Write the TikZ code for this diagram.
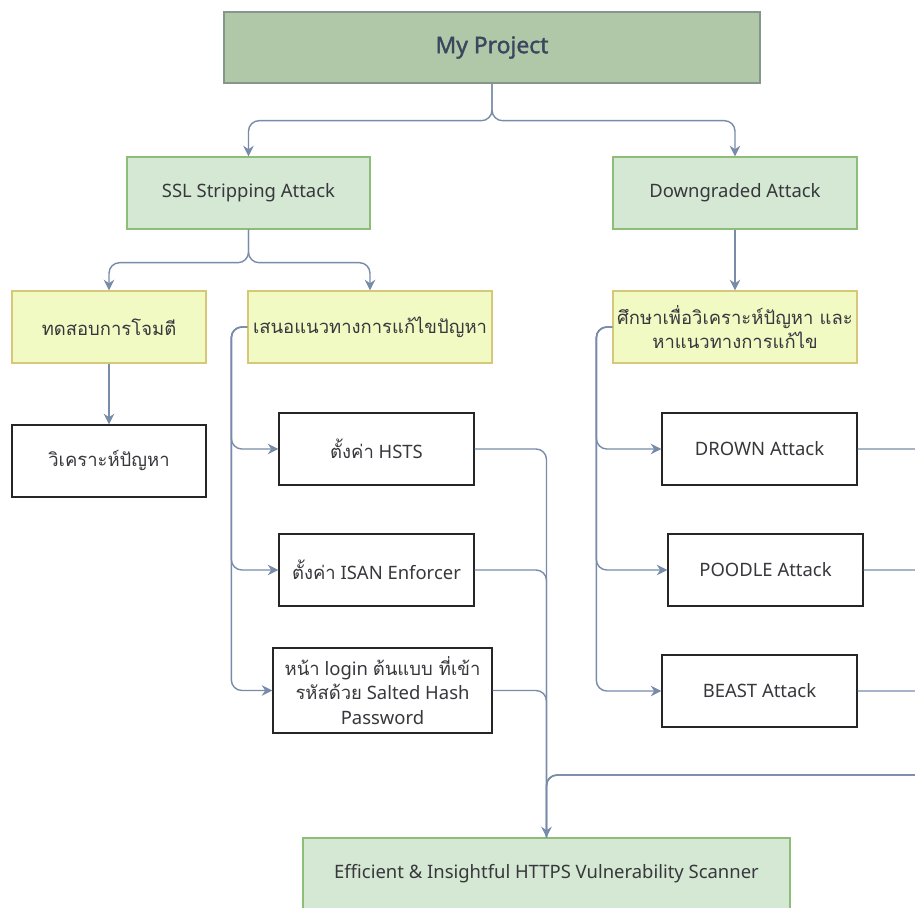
\documentclass[tikz,border=0pt]{standalone}
\usepackage{fontspec}
\setmainfont{Noto Sans}
\newfontfamily\headfont[FakeBold=1.6]{Noto Sans}
\newfontfamily\thaifont[Script=Thai]{Loma}
\usetikzlibrary{arrows.meta}
\tikzset{>={Stealth[length=6pt,width=6pt]}}
\definecolor{topgreen}{RGB}{176,200,168}
\definecolor{topline}{RGB}{135,150,140}
\definecolor{lightgreen}{RGB}{213,232,212}
\definecolor{greenline}{RGB}{140,190,120}
\definecolor{lightyellow}{RGB}{242,250,196}
\definecolor{yellowline}{RGB}{214,200,120}
\definecolor{linkgray}{RGB}{120,140,170}
\definecolor{textgray}{RGB}{55,55,60}
\definecolor{headtext}{RGB}{60,70,95}
\tikzset{
  box/.style={draw=black!85, line width=0.8pt, text=textgray, align=center,
    font=\fontsize{10.5}{14}\selectfont, inner sep=2pt, minimum height=1.44cm},
  thai/.style={font=\fontsize{10.5}{13.5}\selectfont\thaifont},
  topbox/.style={box, fill=topgreen, draw=topline, text=headtext,
    font=\fontsize{13}{16}\selectfont\headfont},
  greenbox/.style={box, fill=lightgreen, draw=greenline},
  yellowbox/.style={box, fill=lightyellow, draw=yellowline},
  link/.style={draw=linkgray, line width=0.8pt, rounded corners=6pt, ->},
  merge/.style={link, -},
}

\begin{document}
\begin{tikzpicture}[x=0.02cm,y=-0.02cm]
  \useasboundingbox (0,0) rectangle (915,908);
  \fill[white] (0,0) rectangle (915,908);
  \clip (0,0) rectangle (915,908);

  % top levels
  \node[topbox, minimum width=10.72cm, minimum height=1.42cm] (proj) at (492,47.5) {My Project};
  \node[greenbox, minimum width=4.86cm] (ssl) at (248.5,193) {SSL Stripping Attack};
  \node[greenbox, minimum width=4.88cm] (down) at (735,193) {Downgraded Attack};
  \node[yellowbox, thai, minimum width=3.88cm] (test) at (109,327) {ทดสอบการโจมตี};
  \node[yellowbox, thai, minimum width=4.88cm] (prop) at (370,327) {เสนอแนวทางการแก้ไขปัญหา};
  \node[yellowbox, thai, minimum width=4.88cm] (study) at (735,327) {ศึกษาเพื่อวิเคราะห์ปัญหา และ\\หาแนวทางการแก้ไข};

  % leaves
  \node[box, thai, minimum width=3.88cm] (anal) at (109,461) {วิเคราะห์ปัญหา};
  \node[box, minimum width=3.9cm] (hsts) at (376.5,449) {{\thaifont ตั้งค่า} HSTS};
  \node[box, minimum width=3.9cm] (isan) at (376.5,570) {{\thaifont ตั้งค่า} ISAN Enforcer};
  \node[box, minimum width=4.38cm, minimum height=1.7cm] (login) at (382.5,690.5)
    {{\thaifont หน้า} login {\thaifont ต้นแบบ ที่เข้า}\\{\thaifont รหัสด้วย} Salted Hash\\Password};
  \node[box, minimum width=3.9cm] (drown) at (759.5,449) {DROWN Attack};
  \node[box, minimum width=3.9cm] (poodle) at (765.5,570) {POODLE Attack};
  \node[box, minimum width=3.9cm] (beast) at (759.5,691) {BEAST Attack};
  \node[greenbox, minimum width=9.74cm] (scan) at (546.5,874) {Efficient \& Insightful HTTPS Vulnerability Scanner};

  % connectors
  \draw[link] (proj.south) -- ++(0,37) -| (ssl.north);
  \draw[link] (proj.south) -- ++(0,37) -| (down.north);
  \draw[link] (ssl.south) -- ++(0,33) -| (test.north);
  \draw[link] (ssl.south) -- ++(0,33) -| (prop.north);
  \draw[link] (down.south) -- (study.north);
  \draw[link] (test.south) -- (anal.north);
  \foreach \n in {hsts,isan,login}
    \draw[link] (prop.west) -- ++(-16,0) |- (\n.west);
  \foreach \n in {drown,poodle,beast}
    \draw[link] (study.west) -- ++(-16,0) |- (\n.west);
  \draw[link] (hsts.east) -| (scan.north);
  \foreach \n in {isan,login}
    \draw[merge] (\n.east) -| (scan.north);
  \coordinate (rj) at (950,775);
  \foreach \n in {drown,poodle,beast}
    \draw[merge] (\n.east) -| (rj) -| (scan.north);
\end{tikzpicture}
\end{document}
